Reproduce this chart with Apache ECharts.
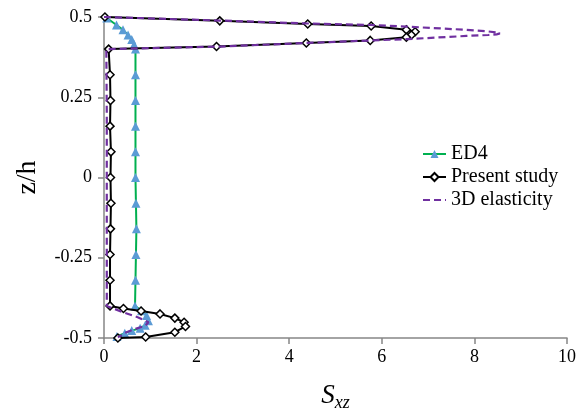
<!DOCTYPE html>
<html>
<head>
<meta charset="utf-8">
<script src="https://cdn.jsdelivr.net/npm/echarts@6/dist/echarts.min.js"></script>
<style>
  html, body { margin: 0; padding: 0; background: #fff; }
  #chart { width: 583px; height: 417px; }
</style>
</head>
<body>
<div id="chart"></div>
<script>
// [Sxz, z/h]
var ed4 = [
  [0.06, 0.497], [0.27, 0.475], [0.41, 0.46], [0.52, 0.444], [0.6, 0.43], [0.65, 0.414], [0.68, 0.4],
  [0.68, 0.32], [0.68, 0.24], [0.68, 0.16], [0.68, 0.08], [0.68, 0], [0.69, -0.08], [0.7, -0.16],
  [0.69, -0.24], [0.68, -0.32], [0.67, -0.4],
  [0.81, -0.415], [0.92, -0.43], [0.96, -0.446], [0.89, -0.46], [0.78, -0.47], [0.6, -0.477],
  [0.45, -0.485], [0.28, -0.495]
];
var present = [
  [0.02, 0.5], [2.5, 0.488], [4.4, 0.478], [5.77, 0.472], [6.53, 0.46], [6.72, 0.454], [6.64, 0.444],
  [6.53, 0.437], [5.75, 0.427], [4.37, 0.419], [2.43, 0.408], [0.1, 0.4],
  [0.13, 0.32], [0.14, 0.24], [0.13, 0.16], [0.15, 0.08], [0.14, 0], [0.15, -0.08], [0.14, -0.16],
  [0.13, -0.24], [0.13, -0.32], [0.13, -0.4],
  [0.42, -0.408], [0.8, -0.416], [1.21, -0.425], [1.53, -0.438], [1.73, -0.451], [1.76, -0.464],
  [1.53, -0.482], [0.9, -0.497], [0.3, -0.5]
];
var elasticity = [
  [0, 0.5], [2.5, 0.489], [4.36, 0.48], [5.77, 0.475], [6.54, 0.47], [7.83, 0.46], [8.3, 0.455],
  [8.48, 0.452], [8.55, 0.449], [8.48, 0.446], [8.3, 0.444], [7.83, 0.441], [6.54, 0.431],
  [5.77, 0.427], [4.36, 0.419], [2.5, 0.408], [0.05, 0.4],
  [0.06, 0.2], [0.06, 0], [0.06, -0.2], [0.06, -0.4],
  [0.38, -0.418], [0.74, -0.436], [0.96, -0.451], [0.89, -0.462], [0.67, -0.472], [0.45, -0.484],
  [0.3, -0.498]
];
var xTicks = [0, 2, 4, 6, 8, 10];
var yTicks = [-0.5, -0.25, 0, 0.25, 0.5];

var serif = "Liberation Serif";
var axisColor = "#868686";

var myChart = echarts.init(document.getElementById("chart"));
myChart.setOption({
  animation: false,
  grid: { left: 104, right: 16, top: 17, bottom: 78 },
  legend: {
    orient: "vertical",
    left: 417,
    top: 139,
    itemGap: 3,
    itemWidth: 23,
    itemHeight: 10,
    textStyle: { fontFamily: serif, fontSize: 20, color: "#000" },
    data: [
      "ED4",
      "Present study",
      { name: "3D elasticity", itemStyle: { opacity: 0 } }
    ]
  },
  xAxis: {
    type: "value",
    min: xTicks[0],
    max: xTicks[xTicks.length - 1],
    interval: xTicks[1] - xTicks[0],
    name: "{s|S}{sub|xz}",
    nameLocation: "middle",
    nameGap: 42,
    nameTextStyle: {
      rich: {
        s: { fontFamily: serif, fontStyle: "italic", fontSize: 27, color: "#000", lineHeight: 30 },
        sub: { fontFamily: serif, fontStyle: "italic", fontSize: 18, color: "#000", padding: [14, 0, 0, 0] }
      }
    },
    axisLine: { onZero: false, lineStyle: { color: axisColor, width: 1.5 } },
    axisTick: { length: 6, lineStyle: { color: axisColor, width: 1.5 } },
    axisLabel: { fontFamily: serif, fontSize: 18, color: "#000", margin: 10 },
    splitLine: { show: false }
  },
  yAxis: {
    type: "value",
    min: yTicks[0],
    max: yTicks[yTicks.length - 1],
    interval: yTicks[1] - yTicks[0],
    name: "z/h",
    nameLocation: "middle",
    nameRotate: 90,
    nameGap: 62,
    nameTextStyle: { fontFamily: serif, fontSize: 28, color: "#000" },
    axisLine: { onZero: false, lineStyle: { color: axisColor, width: 1.5 } },
    axisTick: { length: 6, lineStyle: { color: axisColor, width: 1.5 } },
    axisLabel: { fontFamily: serif, fontSize: 18, color: "#000", margin: 12 },
    splitLine: { show: false }
  },
  series: [
    {
      name: "ED4",
      type: "line",
      data: ed4,
      symbol: "triangle",
      symbolSize: 9,
      showAllSymbol: true,
      lineStyle: { color: "#00B050", width: 2 },
      itemStyle: { color: "#5B9BD5" },
      z: 2
    },
    {
      name: "Present study",
      type: "line",
      data: present,
      symbol: "diamond",
      symbolSize: 8,
      showAllSymbol: true,
      lineStyle: { color: "#000", width: 2 },
      itemStyle: { color: "#fff", borderColor: "#000", borderWidth: 1.5 },
      z: 3
    },
    {
      name: "3D elasticity",
      type: "line",
      data: elasticity,
      symbol: "circle",
      showSymbol: false,
      lineStyle: { color: "#7030A0", width: 2.2, type: [7, 4] },
      itemStyle: { color: "#7030A0" },
      z: 4
    }
  ]
});
</script>
</body>
</html>
